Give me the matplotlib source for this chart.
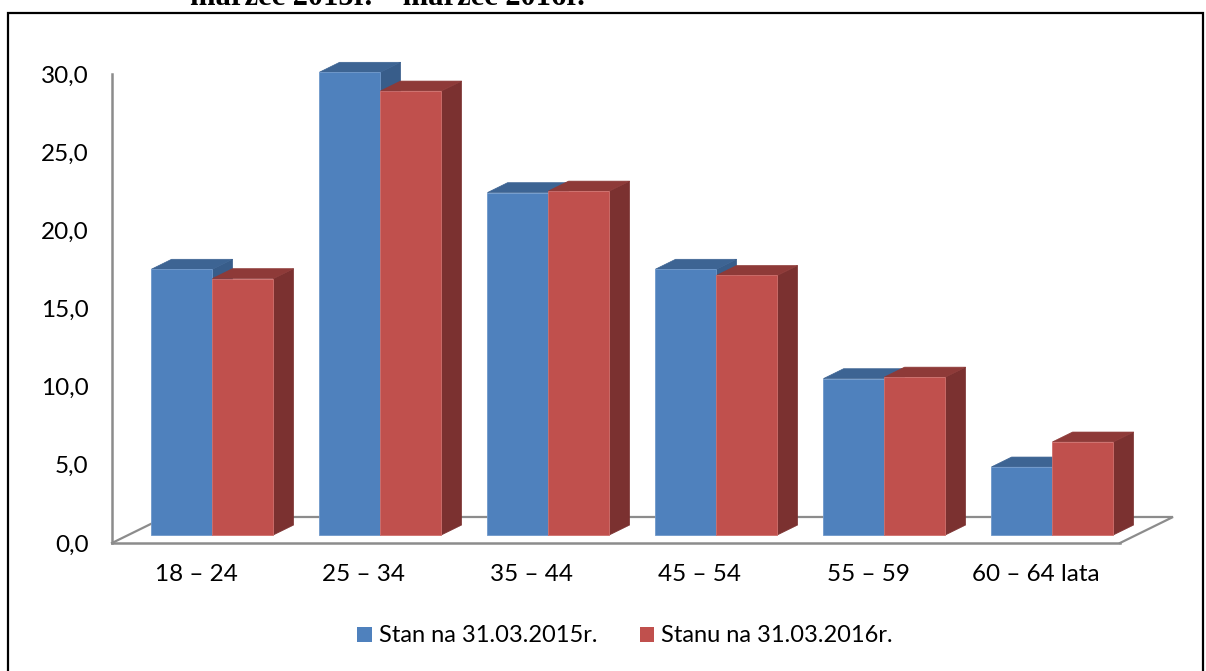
import matplotlib
matplotlib.use("Agg")
import matplotlib.pyplot as plt
from matplotlib.patches import Polygon, Rectangle, Patch

plt.rcParams['font.family'] = ['Lato', 'DejaVu Sans']

categories = ["18 – 24", "25 – 34", "35 – 44", "45 – 54", "55 – 59", "60 – 64 lata"]
series_2015 = [17.0, 29.6, 21.9, 17.0, 10.0, 4.35]
series_2016 = [16.4, 28.4, 22.0, 16.6, 10.1, 5.95]
series_names = ["Stan na 31.03.2015r.", "Stanu na 31.03.2016r."]
y_ticks = [0, 5, 10, 15, 20, 25, 30]
y_tick_labels = ["0,0", "5,0", "10,0", "15,0", "20,0", "25,0", "30,0"]
title_text = "marzec 2015r. – marzec 2016r."

W, H = 1206, 671
fig = plt.figure(figsize=(W / 100, H / 100), dpi=100)

# axes placed so that the front plane of the 3D floor matches the reference
ax = fig.add_axes([112 / W, (H - 543) / H, (1120 - 112) / W, (543 - 74) / H])
ax.set_xlim(-0.5, len(categories) - 0.5)
ax.set_ylim(0, 30)

# oblique depth vector (in data units) and bar geometry
DX = 53 / 168.0
DY = 26 / 15.63
d0, d1 = 0.31, 0.69
bw = 0.363

colors = {
    0: dict(front="#4F81BD", top="#3D6493", side="#385D8A", edge="#6E98CB"),
    1: dict(front="#C0504D", top="#8E3A38", side="#7B3130", edge="#CF6F6C"),
}

gray = "#8C8C8C"
# floor outline (back and left/right edges)
fx0, fx1 = -0.5, len(categories) - 0.5
ax.plot([fx1, fx1 + DX, fx0 + DX, fx0], [0, DY, DY, 0], color=gray, lw=1.6,
        clip_on=False, zorder=1, solid_joinstyle="miter")

s = d1 - d0
for k in range(len(categories)):
    for si, vals in enumerate([series_2015, series_2016]):
        v = vals[k]
        c = colors[si]
        xl = k - bw + si * bw + d0 * DX
        xr = xl + bw
        B = d0 * DY
        T = B + v
        z = 2 + k * 3 + si
        ax.bar(xl, v, width=bw, bottom=B, align="edge", color=c["front"],
               edgecolor=c["edge"], linewidth=0.6, clip_on=False, zorder=z + 0.2)
        ax.add_patch(Polygon([(xl, T), (xr, T), (xr + s * DX, T + s * DY), (xl + s * DX, T + s * DY)],
                             closed=True, facecolor=c["top"], edgecolor=c["top"], lw=0.5,
                             clip_on=False, zorder=z + 0.1))
        ax.add_patch(Polygon([(xr, B), (xr, T), (xr + s * DX, T + s * DY), (xr + s * DX, B + s * DY)],
                             closed=True, facecolor=c["side"], edgecolor=c["side"], lw=0.5,
                             clip_on=False, zorder=z))

for sp in ["top", "right"]:
    ax.spines[sp].set_visible(False)
for sp in ["left", "bottom"]:
    ax.spines[sp].set_color(gray)
    ax.spines[sp].set_linewidth(1.8)
ax.spines["bottom"].set_zorder(50)

ax.set_yticks(y_ticks)
ax.set_yticklabels(y_tick_labels)
ax.set_xticks(range(len(categories)))
ax.set_xticklabels(categories)
ax.tick_params(axis="both", length=0, labelsize=17.5, colors="black")
ax.tick_params(axis="y", pad=17)
ax.tick_params(axis="x", pad=15)
for lab in ax.get_yticklabels():
    lab.set_y(lab.get_position()[1])
ax.patch.set_visible(False)

handles = [Patch(facecolor=colors[0]["front"], edgecolor="none"),
           Patch(facecolor=colors[1]["front"], edgecolor="none")]
fig.legend(handles, series_names, loc="center", bbox_to_anchor=(625 / W, 1 - 636 / H),
           ncol=2, frameon=False, fontsize=17, handlelength=0.6, handleheight=0.6,
           handletextpad=0.3, columnspacing=1.8)

# outer frame of the document box
fig.add_artist(Rectangle((8 / W, -0.05), (1203 - 8) / W, 1.05 - 13 / H, transform=fig.transFigure,
                         fill=False, edgecolor="black", lw=1.6))

# clipped heading from the page above
fig.text(190 / W, 1 - 5 / H, title_text, ha="left", va="baseline",
         family=["Liberation Serif"], fontweight="bold", fontsize=22)

fig.savefig("out.png", dpi=100)
